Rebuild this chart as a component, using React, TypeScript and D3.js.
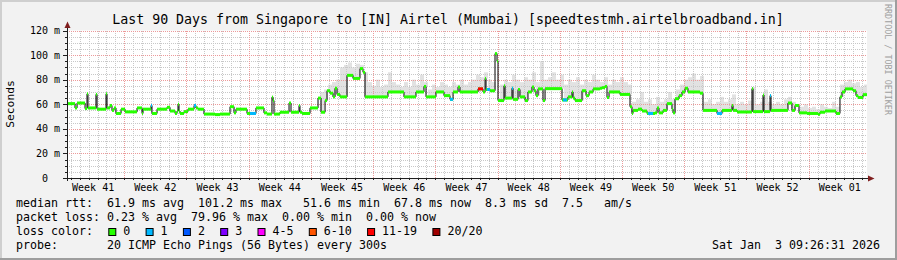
import React from 'react';
import * as d3 from 'd3';

const FONT = "'DejaVu Sans Mono', monospace";

const startUtc = Date.UTC(2025, 9, 5, 13, 26, 31);
const spanDays = 90;

const titleText = 'Last 90 Days from Singapore to [IN] Airtel (Mumbai) [speedtestmh.airtelbroadband.in]';
const yTickValues = [0, 20, 40, 60, 80, 100, 120];
const yTickLabels = ['0', '20 m', '40 m', '60 m', '80 m', '100 m', '120 m'];
const weekLabels = ['Week 41', 'Week 42', 'Week 43', 'Week 44', 'Week 45', 'Week 46', 'Week 47', 'Week 48', 'Week 49', 'Week 50', 'Week 51', 'Week 52', 'Week 01'];

const medianDays = [
  0.00, 0.90, 1.13, 2.03, 2.25, 2.36, 3.26, 3.38, 4.39, 4.50, 4.84, 5.06, 5.29, 5.51, 6.08, 6.53, 7.88, 8.44, 8.55, 9.45,
  9.56, 10.13, 11.25, 11.59, 12.15, 12.38, 12.49, 12.60, 12.71, 13.16, 13.61, 14.29, 14.51, 14.74, 15.41, 16.65, 17.21, 18.34, 18.79, 19.01,
  20.25, 21.26, 22.16, 22.50, 23.06, 23.18, 23.29, 23.96, 24.98, 25.20, 26.10, 26.21, 26.44, 27.34, 28.24, 28.58, 29.03, 29.25, 29.59, 29.93,
  30.15, 30.38, 30.71, 31.50, 32.18, 32.96, 33.30, 33.53, 36.11, 37.91, 39.26, 40.16, 40.39, 41.51, 42.41, 43.09, 43.43, 43.99, 44.21, 46.24,
  46.80, 47.03, 47.14, 47.59, 48.15, 48.38, 48.49, 49.16, 49.28, 50.06, 50.18, 50.74, 50.96, 51.53, 51.86, 52.31, 52.54, 52.76, 52.99, 53.55,
  53.78, 55.69, 56.36, 56.81, 56.93, 57.15, 57.94, 58.39, 58.73, 59.18, 59.96, 60.19, 60.53, 60.75, 60.98, 62.21, 63.34, 63.56, 63.68, 64.24,
  64.69, 65.25, 66.15, 66.38, 66.60, 67.05, 67.50, 68.06, 68.18, 68.40, 68.85, 69.19, 69.53, 69.86, 71.21, 71.55, 73.13, 73.69, 74.81, 74.93,
  75.38, 77.06, 77.18, 78.30, 78.41, 79.09, 79.20, 81.11, 81.56, 81.90, 82.35, 83.25, 84.49, 84.71, 85.28, 86.51, 86.96, 87.19, 87.53, 88.43,
  88.76, 88.99, 89.55,
];
const medianMs = [
  60.5, 57, 61, 56.5, 68.5, 57, 68, 56, 68.5, 57, 59, 55, 57, 52.5, 56, 53.8, 57, 52.5, 56, 59,
  52.5, 56, 57.5, 54.5, 52.5, 54.5, 60, 54.5, 52.5, 54, 56, 59, 57, 56, 52, 51.6, 52, 58, 53, 56,
  52.5, 57, 53, 52, 65.8, 63, 52, 53.5, 61, 53.5, 59, 53.5, 52.5, 57, 65, 53.5, 63, 71, 69, 66,
  73, 68, 66, 83.5, 81, 89, 86, 66, 70, 66, 70, 74.5, 66, 70, 67, 64, 70, 74, 70, 72.5,
  70, 81, 72, 71, 101.2, 95, 63, 75, 65, 73, 64, 72, 66, 63, 70, 74, 71, 67, 72.5, 63,
  72.7, 63.5, 66, 70, 65, 63, 71, 67, 70, 72.5, 73, 73.5, 74.5, 65.5, 70, 68, 58, 52.5, 55, 56,
  54.5, 52.5, 53, 57, 53, 55, 60.5, 56, 53, 64.5, 67, 70, 73, 70, 69, 55, 52.5, 55, 59, 55,
  53.7, 72.7, 54, 67.5, 54, 67, 55, 61, 55, 59, 53, 52.5, 51.8, 53.5, 54.5, 52.5, 66, 70, 72.5, 71,
  67, 65.5, 67.8,
];

const lossStartDays = [9.45, 14.29, 20.59, 43.09, 46.24, 47.25, 50.06, 55.80, 65.36, 73.13, 79.09];
const lossEndDays = [9.56, 14.51, 21.26, 43.43, 46.80, 47.59, 50.18, 56.25, 65.93, 73.69, 79.20];
const lossLevels = [1, 1, 1, 1, 6, 1, 1, 1, 1, 1, 1];

const lossLabels = ['0', '1', '2', '3', '4-5', '6-10', '11-19', '20/20'];
const lossColors = ['#26ff00', '#00b8ff', '#0059ff', '#7e00ff', '#ff00ff', '#ff5500', '#ff0000', '#a00000'];

const smokeStartDay = 28.46;
const smokeStepDays = 0.45;
const smokeTopMs = [
  70, 72, 76, 78, 80, 90, 92, 94, 90, 93, 92, 86, 78, 75, 80, 74, 76, 86, 78, 76,
  74, 78, 74, 80, 76, 84, 78, 72, 76, 74, 78, 76, 74, 78, 76, 80, 76, 78, 80, 84,
  82, 86, 80, 78, 96, 76, 80, 78, 84, 80, 78, 82, 80, 86, 78, 95, 80, 82, 86, 80,
  84, 76, 80, 78, 82, 76, 80, 78, 84, 80, 78, 82, 76, 80, 78, 82, 78, 76, 62, 64,
  70, 62, 64, 60, 66, 62, 64, 70, 64, 72, 76, 80, 82, 85, 80, 83, 62, 64, 60, 62,
  66, 62, 64, 68, 60, 62, 60, 63, 74, 60, 62, 72, 62, 60, 62, 60, 64, 66, 62, 60,
  58, 60, 57, 58, 56, 60, 58, 57, 62, 58, 76, 78, 80, 77, 78, 74, 76,
];

const legendLines = [
  'median rtt:  61.9 ms avg  101.2 ms max   51.6 ms min  67.8 ms now  8.3 ms sd  7.5   am/s',
  'packet loss: 0.23 % avg  79.96 % max  0.00 % min  0.00 % now',
  'loss color:',
  'probe:       20 ICMP Echo Pings (56 Bytes) every 300s',
];
const dateStamp = 'Sat Jan  3 09:26:31 2026';
const yAxisTitle = 'Seconds';
const watermark = 'RRDTOOL / TOBI OETIKER';

export default function App() {
  const W = 897, H = 260;
  const left = 67, right = 867, top = 30.5, bottom = 178;
  const DAYMS = 86400000;
  const t0 = new Date(startUtc);
  const t1 = new Date(startUtc + spanDays * DAYMS);
  const x = d3.scaleLinear().domain([0, spanDays]).range([left, right]);
  const tx = d3.scaleUtc().domain([t0, t1]).range([left, right]);
  const y = d3.scaleLinear().domain([0, 120]).range([bottom, top]);

  const days = d3.utcDay.range(t0, t1);
  const sundays = d3.utcSunday.range(t0, t1);
  const sundaySet = new Set(sundays.map((d) => +d));
  const weekStarts = d3.utcSunday.range(d3.utcSunday.floor(t0), t1);

  const snap = (v: number) => Math.round(v) + 0.5;

  const minorH: number[] = [];
  for (let v = 5; v < 120; v += 5) if (v % 20 !== 0) minorH.push(v);
  const majorH = yTickValues.filter((v) => v > 0);

  const medianAt = (d: number) => {
    const i = Math.max(0, d3.bisectRight(medianDays, d) - 1);
    return medianMs[i];
  };

  const pts: [number, number][] = medianDays.map((d, i) => [x(d), y(medianMs[i])]);
  pts.push([x(spanDays), y(medianMs[medianMs.length - 1])]);
  const linePath = d3.line().curve(d3.curveStepAfter)(pts) || '';

  const bandH = 3;
  const bands = medianDays.map((d, i) => {
    const d2 = i + 1 < medianDays.length ? medianDays[i + 1] : spanDays;
    return { x0: x(d), x1: x(d2), v: medianMs[i] };
  });

  const lossRects: { x0: number; x1: number; v: number; c: string }[] = [];
  lossStartDays.forEach((s, k) => {
    const e = lossEndDays[k];
    const cuts = [s, ...medianDays.filter((d) => d > s && d < e), e];
    for (let j = 0; j < cuts.length - 1; j++) {
      lossRects.push({ x0: x(cuts[j]), x1: x(cuts[j + 1]), v: medianAt(cuts[j]), c: lossColors[lossLevels[k]] });
    }
  });

  const smoke = smokeTopMs.map((v, i) => {
    const d = smokeStartDay + i * smokeStepDays;
    const m = medianAt(d + smokeStepDays / 2);
    return { x0: x(d), x1: x(Math.min(spanDays, d + smokeStepDays)), top: v, base: m };
  }).filter((s) => s.top > s.base);

  const lossItems: { bx: number; lx: number; label: string; color: string }[] = [];
  let bx = 108.3;
  lossLabels.forEach((lab, i) => {
    const lx = bx + 15;
    lossItems.push({ bx, lx, label: lab, color: lossColors[i] });
    bx = lx + lab.length * 7 + 15.3;
  });

  const legendSize = 11.63;
  const legendBase = [207.4, 221.3, 235.2, 249.2];

  return (
    <svg width={W} height={H} style={{ display: 'block', position: 'absolute', left: 0, top: 0 }} fontFamily={FONT}>
      <rect x={0} y={0} width={W} height={H} fill="#f2f2f2" />
      <rect x={0} y={0} width={W} height={2} fill="#cfcfcf" />
      <rect x={0} y={0} width={2} height={H} fill="#cfcfcf" />
      <rect x={0} y={H - 2} width={W} height={2} fill="#9e9e9e" />
      <rect x={W - 2} y={0} width={2} height={H} fill="#9e9e9e" />

      <rect x={left} y={top} width={right - left} height={bottom - top} fill="#ffffff" />

      <g>
        {smoke.map((s, i) => (
          <rect key={i} x={s.x0} y={y(s.top)} width={Math.max(0, s.x1 - s.x0)} height={y(s.base) - y(s.top)} fill="#e2e2e2" />
        ))}
      </g>

      <g stroke="#c8c8c8" strokeWidth={1} strokeDasharray="1,1" shapeRendering="crispEdges">
        {minorH.map((v) => (
          <line key={'h' + v} x1={left} x2={right} y1={snap(y(v))} y2={snap(y(v))} />
        ))}
        {days.filter((d) => !sundaySet.has(+d) && +d > +t0).map((d) => (
          <line key={'v' + +d} x1={snap(tx(d))} x2={snap(tx(d))} y1={top} y2={bottom} />
        ))}
      </g>
      <g stroke="#ec9a9a" strokeWidth={1} strokeDasharray="1,1" shapeRendering="crispEdges">
        {majorH.map((v) => (
          <line key={'H' + v} x1={left} x2={right} y1={snap(y(v))} y2={snap(y(v))} />
        ))}
        {sundays.map((d) => (
          <line key={'V' + +d} x1={snap(tx(d))} x2={snap(tx(d))} y1={top} y2={bottom + 3} />
        ))}
      </g>

      <path d={linePath} fill="none" stroke="#000000" strokeWidth={1} />
      <g>
        {bands.map((b, i) => (
          <rect key={i} x={b.x0} y={y(b.v) - bandH / 2} width={Math.max(0.5, b.x1 - b.x0)} height={bandH} fill={lossColors[0]} />
        ))}
        {lossRects.map((b, i) => (
          <rect key={'l' + i} x={b.x0} y={y(b.v) - bandH / 2} width={Math.max(0.5, b.x1 - b.x0)} height={bandH} fill={b.c} />
        ))}
      </g>

      <g stroke="#1f1f1f" strokeWidth={1} shapeRendering="crispEdges">
        <line x1={63} x2={869} y1={snap(bottom)} y2={snap(bottom)} />
        <line x1={snap(left)} x2={snap(left)} y1={181} y2={26} />
        {majorH.map((v) => (
          <line key={'t' + v} x1={63} x2={left} y1={snap(y(v))} y2={snap(y(v))} />
        ))}
        {minorH.map((v) => (
          <line key={'mt' + v} x1={65} x2={left} y1={snap(y(v))} y2={snap(y(v))} />
        ))}
        {days.map((d) => (
          <line key={'xt' + +d} x1={snap(tx(d))} x2={snap(tx(d))} y1={bottom} y2={bottom + 2} />
        ))}
      </g>
      <path d={`M${snap(left) - 3},28 L${snap(left)},21.5 L${snap(left) + 3},28 Z`} fill="#801f1f" />
      <path d={`M868,${snap(bottom) - 3} L874.5,${snap(bottom)} L868,${snap(bottom) + 3} Z`} fill="#801f1f" />

      <g fontSize={10} fill="#000">
        {yTickValues.map((v, i) => (
          <text key={v} x={v === 0 ? 48 : 60} y={y(v) + 3.6} textAnchor="end">{yTickLabels[i]}</text>
        ))}
      </g>
      <g fontSize={10} fill="#000" textAnchor="middle">
        {weekStarts.map((d, i) => (
          <text key={i} x={tx(new Date(+d + 3.5 * DAYMS))} y={191}>{weekLabels[i]}</text>
        ))}
      </g>

      <text x={448} y={24} fontSize={13.29} textAnchor="middle" fill="#000">{titleText}</text>
      <text transform="translate(14,104) rotate(-90)" fontSize={11.3} textAnchor="middle" fill="#000">{yAxisTitle}</text>
      <text transform="translate(885,4) rotate(90)" fontSize={8.4} fill="#a0a0a0">{watermark}</text>

      <g fontSize={legendSize} fill="#000" style={{ whiteSpace: 'pre' }}>
        {legendLines.map((l, i) => (
          <text key={i} x={16} y={legendBase[i]} xmlSpace="preserve">{l}</text>
        ))}
        {lossItems.map((it, i) => (
          <g key={'li' + i}>
            <rect x={it.bx + 0.5} y={228.5} width={7} height={7} fill={it.color} stroke="#000" strokeWidth={1} />
            <text x={it.lx} y={legendBase[2]}>{it.label}</text>
          </g>
        ))}
        <text x={880} y={legendBase[3]} textAnchor="end" xmlSpace="preserve">{dateStamp}</text>
      </g>
    </svg>
  );
}
